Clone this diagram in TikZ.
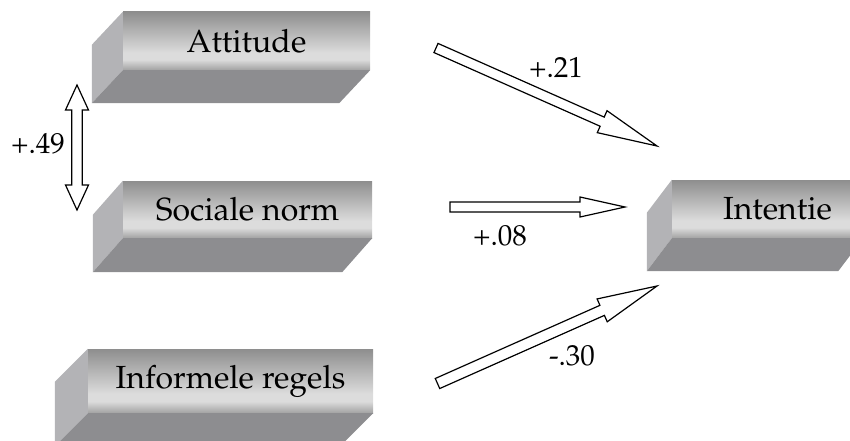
\documentclass[tikz,border=0pt]{standalone}
\usepackage[T1]{fontenc}
\usepackage{mathpazo}
\usetikzlibrary{calc}
\definecolor{sidecol}{HTML}{B3B3B6}
\definecolor{botcol}{HTML}{8D8D90}
\definecolor{fA}{HTML}{A2A2A2}
\definecolor{fB}{HTML}{DCDCDC}
\definecolor{fC}{HTML}{8E8E8E}
\pgfdeclareverticalshading{facesh}{100bp}{color(0bp)=(fA); color(25bp)=(fA); color(34bp)=(fB); color(40bp)=(fB); color(75bp)=(fC); color(100bp)=(fC)}
\tikzset{
  face/.style={shading=facesh, minimum width=#1, inner sep=0pt, font=\fontsize{32}{38}\selectfont},
  lab/.style={font=\fontsize{29}{34}\selectfont, inner sep=0pt, anchor=base},
  fat/.style={draw=black, fill=white, line width=1.2pt, line join=miter},
}
% block arrow: start, end, shaft half width, head half width, head length
\newcommand{\fatarrow}[5]{%
  \path ($(#2)!#5!(#1)$) coordinate (hh);
  \draw[fat] ($(#1)!#3!90:(#2)$) -- ($(hh)!#3!90:(#2)$) -- ($(hh)!#4!90:(#2)$) -- (#2)
     -- ($(hh)!#4!-90:(#2)$) -- ($(hh)!#3!-90:(#2)$) -- ($(#1)!#3!-90:(#2)$) -- cycle;}
\newcommand{\fatdarrow}[5]{%
  \path ($(#2)!#5!(#1)$) coordinate (hh) ($(#1)!#5!(#2)$) coordinate (hk);
  \draw[fat] (#1) -- ($(hk)!#4!90:(#2)$) -- ($(hk)!#3!90:(#2)$) -- ($(hh)!#3!90:(#2)$) -- ($(hh)!#4!90:(#2)$) -- (#2)
     -- ($(hh)!#4!-90:(#2)$) -- ($(hh)!#3!-90:(#2)$) -- ($(hk)!#3!-90:(#2)$) -- ($(hk)!#4!-90:(#2)$) -- cycle;}
% side faces of a block: node name, depth dx, dy
\newcommand{\blockfaces}[3]{%
  \fill[sidecol] (#1.north west) -- ++(#2,#3) -- ($(#1.south west)+(#2,#3)$) -- (#1.south west) -- cycle;
  \fill[botcol] (#1.south west) -- (#1.south east) -- ++(#2,#3) -- ($(#1.south west)+(#2,#3)$) -- cycle;}
\begin{document}
\begin{tikzpicture}[x=1pt,y=-1pt]
\useasboundingbox (0,0) rectangle (850,441);
\clip (0,0) rectangle (850,441);
% blocks
\node[face=247pt, minimum height=58pt] (att) at (246.5,41) {Attitude};
\blockfaces{att}{-31}{33}
\node[face=249pt, minimum height=57pt] (soc) at (247.5,209.5) {Sociale norm};
\blockfaces{soc}{-30}{34}
\node[face=191pt, minimum height=58pt] (int) at (767.5,209) {\hspace*{20pt}Intentie};
\blockfaces{int}{-25}{33}
\node[face=285pt, minimum height=64pt] (inf) at (230.5,381) {Informele regels};
\blockfaces{inf}{-33}{33}
% arrow end points
\coordinate (a1s) at (436,48);   \coordinate (a1e) at (657,146);
\coordinate (a2s) at (450,207);  \coordinate (a2e) at (625,207);
\coordinate (a3s) at (437.5,383.5); \coordinate (a3e) at (657,286);
\coordinate (d1s) at (77,85);    \coordinate (d1e) at (77,210);
\fatarrow{a1s}{a1e}{5pt}{12pt}{60pt}
\fatarrow{a2s}{a2e}{5pt}{10pt}{45pt}
\fatarrow{a3s}{a3e}{5.5pt}{12.5pt}{60pt}
\fatdarrow{d1s}{d1e}{5.3pt}{11.5pt}{25pt}
% labels
\node[lab] (l21) at (556,78) {+.21};
\node[lab] (l08) at (500,245) {+.08};
\node[lab] (l30) at (572,365) {-.30};
\node[lab] (l49) at (38,153) {+.49};
\end{tikzpicture}
\end{document}
